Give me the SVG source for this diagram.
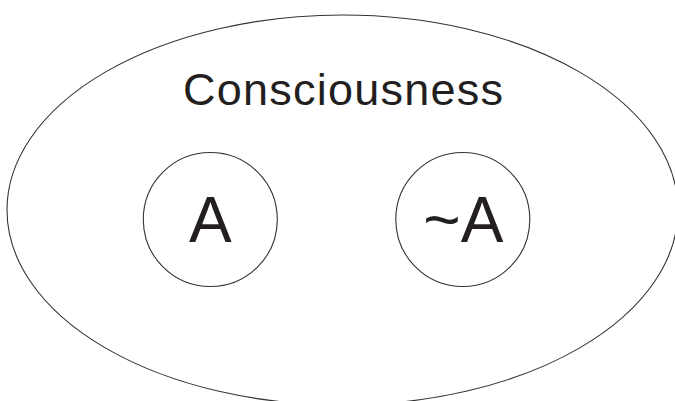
<svg xmlns="http://www.w3.org/2000/svg" width="675" height="401" viewBox="0 0 675 401">
<style>
.shape{fill:none;stroke:#333;stroke-width:1.1}
.lbl{font-family:"Liberation Sans",Arial,sans-serif;fill:#231f20;text-anchor:middle}
</style>
<rect width="675" height="401" fill="#fff"/>
<g id="consciousness">
<ellipse class="shape" cx="342.5" cy="210" rx="335.5" ry="195"/>
<text class="lbl" x="343" y="105" font-size="45" textLength="320" lengthAdjust="spacing">Consciousness</text>
</g>
<g id="nodeA">
<circle class="shape" cx="210.3" cy="219.5" r="67"/>
<text class="lbl" x="210.3" y="242.3" font-size="64">A</text>
</g>
<g id="nodeNotA">
<circle class="shape" cx="462.8" cy="219.5" r="67"/>
<text class="lbl" x="463.4" y="242.3" font-size="64">~A</text>
</g>
<g id="connectors"/>
</svg>
